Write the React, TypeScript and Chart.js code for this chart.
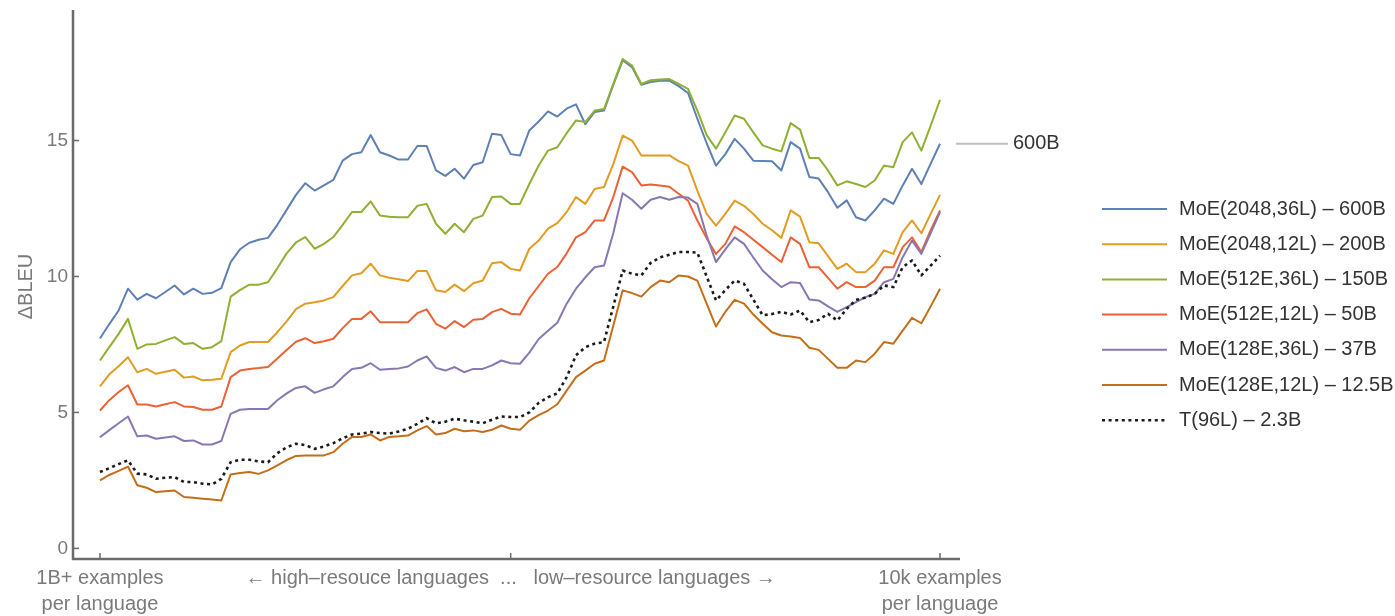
import React, { useEffect, useRef } from "react";
import { Chart, registerables } from "chart.js";

Chart.register(...registerables);

// Languages ordered from most to least training data (rank index along the x axis)
const languageRank = Array.from({ length: 91 }, (_, i) => i);

const xTickPositions = [0, 44, 90];
const xTickLabels = [
  ["1B+ examples", "per language"],
  ["← high–resouce languages  ...   low–resource languages →"],
  ["10k examples", "per language"],
];
const yTickValues = [0, 5, 10, 15];
const yTitle = "ΔBLEU";

const seriesNames = [
  "MoE(2048,36L) – 600B",
  "MoE(2048,12L) – 200B",
  "MoE(512E,36L) – 150B",
  "MoE(512E,12L) – 50B",
  "MoE(128E,36L) – 37B",
  "MoE(128E,12L) – 12.5B",
  "T(96L) – 2.3B",
];

const moe2048x36 = [
  7.72, 8.25, 8.75, 9.55, 9.15, 9.36, 9.2, 9.43, 9.67, 9.34,
  9.55, 9.36, 9.4, 9.57, 10.53, 11.0, 11.24, 11.35, 11.42, 11.9,
  12.45, 13.0, 13.43, 13.16, 13.35, 13.55, 14.26, 14.5, 14.57, 15.2,
  14.57, 14.45, 14.3, 14.3, 14.8, 14.8, 13.9, 13.7, 13.96, 13.6,
  14.1, 14.2, 15.25, 15.2, 14.5, 14.45, 15.37, 15.7, 16.07, 15.88,
  16.17, 16.33, 15.6, 16.05, 16.1, 17.05, 17.95, 17.7, 17.05, 17.15,
  17.2, 17.2, 17.0, 16.75, 15.8, 14.9, 14.08, 14.5, 15.06, 14.7,
  14.26, 14.25, 14.24, 13.9, 14.94, 14.7, 13.66, 13.6, 13.1, 12.53,
  12.8, 12.18, 12.06, 12.43, 12.86, 12.67, 13.35, 13.96, 13.4, 14.15,
  14.88,
];

const moe2048x12 = [
  5.96, 6.4, 6.7, 7.03, 6.48, 6.6, 6.42, 6.5, 6.57, 6.28,
  6.32, 6.18, 6.2, 6.24, 7.22, 7.46, 7.59, 7.59, 7.59, 7.95,
  8.35, 8.8, 9.0, 9.05, 9.12, 9.24, 9.65, 10.04, 10.12, 10.47,
  10.04, 9.95, 9.9, 9.83, 10.2, 10.2, 9.49, 9.43, 9.7, 9.46,
  9.75, 9.85, 10.49, 10.53, 10.28, 10.22, 11.02, 11.32, 11.76, 11.96,
  12.37, 12.92, 12.67, 13.22, 13.29, 14.14, 15.18, 15.0, 14.45, 14.45,
  14.45, 14.45, 14.24, 14.08, 13.16, 12.3, 11.87, 12.3, 12.79, 12.6,
  12.3, 11.94, 11.7, 11.42, 12.43, 12.2, 11.26, 11.22, 10.75, 10.28,
  10.47, 10.16, 10.16, 10.47, 10.96, 10.83, 11.63, 12.06, 11.59, 12.3,
  13.0,
];

const moe512x36 = [
  6.91, 7.4, 7.89, 8.44, 7.34, 7.5, 7.52, 7.65, 7.77, 7.52,
  7.55, 7.34, 7.4, 7.62, 9.26, 9.5, 9.7, 9.7, 9.79, 10.3,
  10.85, 11.25, 11.45, 11.02, 11.2, 11.45, 11.9, 12.37, 12.37, 12.76,
  12.24, 12.2, 12.18, 12.18, 12.6, 12.67, 11.94, 11.57, 11.94, 11.63,
  12.12, 12.24, 12.92, 12.94, 12.67, 12.67, 13.4, 14.08, 14.63, 14.75,
  15.27, 15.74, 15.68, 16.1, 16.16, 17.08, 18.0, 17.76, 17.08, 17.22,
  17.24, 17.26, 17.08, 16.9, 16.1, 15.2, 14.7, 15.3, 15.92, 15.8,
  15.3, 14.82, 14.7, 14.6, 15.64, 15.4, 14.36, 14.36, 13.9, 13.35,
  13.5, 13.4, 13.29, 13.53, 14.08, 14.02, 14.94, 15.3, 14.63, 15.55,
  16.5,
];

const moe512x12 = [
  5.07, 5.45, 5.75, 6.0, 5.29, 5.29, 5.22, 5.3, 5.38, 5.22,
  5.2, 5.1, 5.1, 5.22, 6.3, 6.54, 6.6, 6.63, 6.67, 6.98,
  7.3, 7.6, 7.73, 7.55, 7.62, 7.71, 8.1, 8.44, 8.44, 8.72,
  8.32, 8.32, 8.32, 8.32, 8.65, 8.79, 8.26, 8.08, 8.36, 8.14,
  8.41, 8.44, 8.69, 8.81, 8.63, 8.6, 9.2, 9.65, 10.1, 10.35,
  10.85, 11.44, 11.63, 12.06, 12.06, 12.92, 14.04, 13.84, 13.35, 13.38,
  13.35, 13.3, 13.04, 12.79, 12.06, 11.4, 10.83, 11.2, 11.84, 11.63,
  11.35, 11.08, 10.8, 10.53, 11.44, 11.2, 10.34, 10.34, 9.95, 9.55,
  9.79, 9.61, 9.61, 9.85, 10.34, 10.34, 11.08, 11.44, 10.9, 11.7,
  12.43,
];

const moe128x36 = [
  4.09, 4.35, 4.6, 4.85, 4.12, 4.15, 4.03, 4.08, 4.12, 3.95,
  3.97, 3.82, 3.82, 3.95, 4.95, 5.1, 5.13, 5.13, 5.13, 5.45,
  5.7, 5.9, 5.96, 5.72, 5.85, 5.96, 6.3, 6.6, 6.64, 6.81,
  6.57, 6.6, 6.62, 6.69, 6.91, 7.06, 6.64, 6.54, 6.67, 6.48,
  6.6, 6.6, 6.73, 6.91, 6.81, 6.79, 7.2, 7.7, 8.0, 8.3,
  9.0, 9.55, 9.97, 10.34, 10.4, 11.6, 13.06, 12.82, 12.49, 12.82,
  12.92, 12.82, 12.92, 12.9, 12.67, 11.5, 10.53, 11.0, 11.44, 11.2,
  10.7, 10.22, 9.9, 9.61, 9.79, 9.76, 9.15, 9.12, 8.9, 8.7,
  8.87, 9.06, 9.24, 9.36, 9.79, 9.91, 10.71, 11.32, 10.83, 11.6,
  12.37,
];

const moe128x12 = [
  2.5, 2.7, 2.85, 3.01, 2.32, 2.23, 2.07, 2.1, 2.13, 1.89,
  1.86, 1.83, 1.8, 1.76, 2.72, 2.77, 2.81, 2.74, 2.87, 3.05,
  3.25, 3.4, 3.42, 3.42, 3.42, 3.54, 3.85, 4.1, 4.1, 4.19,
  3.97, 4.1, 4.12, 4.15, 4.34, 4.5, 4.19, 4.24, 4.4, 4.31,
  4.34, 4.28, 4.36, 4.52, 4.4, 4.36, 4.7, 4.9, 5.07, 5.3,
  5.8, 6.3, 6.54, 6.79, 6.91, 8.2, 9.49, 9.39, 9.26, 9.61,
  9.85, 9.79, 10.04, 10.0, 9.85, 9.0, 8.16, 8.7, 9.14, 9.0,
  8.6, 8.26, 7.95, 7.83, 7.79, 7.74, 7.38, 7.3, 6.97, 6.64,
  6.64, 6.91, 6.85, 7.16, 7.59, 7.53, 8.01, 8.48, 8.28, 8.9,
  9.55,
];

const dense96 = [
  2.81, 2.95, 3.1, 3.24, 2.75, 2.72, 2.56, 2.6, 2.62, 2.44,
  2.44, 2.38, 2.35, 2.56, 3.17, 3.26, 3.26, 3.2, 3.17, 3.5,
  3.72, 3.85, 3.8, 3.66, 3.75, 3.87, 4.05, 4.19, 4.22, 4.28,
  4.24, 4.22, 4.3, 4.4, 4.58, 4.79, 4.6, 4.66, 4.77, 4.71,
  4.66, 4.6, 4.73, 4.85, 4.83, 4.83, 5.0, 5.35, 5.56, 5.7,
  6.3, 7.1, 7.4, 7.53, 7.59, 8.9, 10.22, 10.1, 10.04, 10.5,
  10.7, 10.8, 10.9, 10.9, 10.88, 10.0, 9.12, 9.5, 9.85, 9.73,
  9.15, 8.57, 8.62, 8.7, 8.6, 8.75, 8.32, 8.4, 8.63, 8.38,
  8.81, 9.14, 9.22, 9.36, 9.67, 9.61, 10.34, 10.59, 10.04, 10.4,
  10.77,
];

const seriesValues = [moe2048x36, moe2048x12, moe512x36, moe512x12, moe128x36, moe128x12, dense96];
const seriesColors = ["#5E81B5", "#E19C24", "#8FB032", "#EB6235", "#8778B3", "#C56E1A", "#1a1a1a"];
const seriesDashes: number[][] = [[], [], [], [], [], [], [3, 3.6]];
const calloutLabel = "600B";

const FONT = '"Liberation Sans", Arial, Helvetica, sans-serif';
const AXIS_COLOR = "#6b6b6b";
const TICK_TEXT = "#7a7a7a";
const DARK_TEXT = "#333333";

const decorations = {
  id: "decorations",
  beforeDatasetsDraw(chart: any) {
    const { ctx, chartArea: a, scales } = chart;
    const xs = scales.x;
    const ys = scales.y;
    ctx.save();
    // axis frame (left and bottom only)
    ctx.strokeStyle = AXIS_COLOR;
    ctx.lineWidth = 2.5;
    ctx.beginPath();
    ctx.moveTo(a.left, a.top);
    ctx.lineTo(a.left, a.bottom);
    ctx.lineTo(a.right, a.bottom);
    ctx.stroke();
    // inward tick marks
    ctx.lineWidth = 1.5;
    for (const v of yTickValues) {
      const py = ys.getPixelForValue(v);
      ctx.beginPath();
      ctx.moveTo(a.left, py);
      ctx.lineTo(a.left + 6, py);
      ctx.stroke();
    }
    for (const i of xTickPositions) {
      const px = xs.getPixelForValue(i);
      ctx.beginPath();
      ctx.moveTo(px, a.bottom);
      ctx.lineTo(px, a.bottom - 6);
      ctx.stroke();
    }
    // tick labels
    ctx.fillStyle = TICK_TEXT;
    ctx.font = `19px ${FONT}`;
    ctx.textAlign = "right";
    ctx.textBaseline = "middle";
    for (const v of yTickValues) ctx.fillText(String(v), a.left - 5, ys.getPixelForValue(v));
    ctx.font = `20px ${FONT}`;
    ctx.textAlign = "center";
    ctx.textBaseline = "alphabetic";
    xTickPositions.forEach((i, k) => {
      const px = xs.getPixelForValue(i);
      xTickLabels[k].forEach((line, j) => ctx.fillText(line, px, a.bottom + 25 + j * 26));
    });
    // y-axis title
    ctx.save();
    ctx.translate(26, (a.top + a.bottom) / 2 + 2);
    ctx.rotate(-Math.PI / 2);
    ctx.textAlign = "center";
    ctx.textBaseline = "middle";
    ctx.fillText(yTitle, 0, 0);
    ctx.restore();
    ctx.restore();
  },
  afterDraw(chart: any) {
    const { ctx, chartArea: a, scales } = chart;
    ctx.save();
    // callout at the end of the largest model's curve
    const endY = scales.y.getPixelForValue(moe2048x36[moe2048x36.length - 1]);
    ctx.strokeStyle = "#bdbdbd";
    ctx.lineWidth = 2;
    ctx.beginPath();
    ctx.moveTo(a.right - 4, endY);
    ctx.lineTo(a.right + 48, endY);
    ctx.stroke();
    ctx.font = `20px ${FONT}`;
    ctx.fillStyle = DARK_TEXT;
    ctx.textAlign = "left";
    ctx.textBaseline = "middle";
    ctx.fillText(calloutLabel, a.right + 53, endY);

    // legend
    const lx0 = 1102;
    const lx1 = 1167;
    const tx = 1179;
    const top = 209;
    const step = 35.2;
    seriesNames.forEach((name, k) => {
      const yy = top + k * step;
      ctx.strokeStyle = seriesColors[k];
      ctx.lineWidth = k === 6 ? 2.5 : 2;
      ctx.setLineDash(seriesDashes[k]);
      ctx.beginPath();
      ctx.moveTo(lx0, yy);
      ctx.lineTo(lx1, yy);
      ctx.stroke();
      ctx.setLineDash([]);
      ctx.fillStyle = DARK_TEXT;
      ctx.fillText(name, tx, yy);
    });
    ctx.restore();
  },
};

export default function App() {
  const canvasRef = useRef<HTMLCanvasElement | null>(null);

  useEffect(() => {
    const canvas = canvasRef.current;
    if (!canvas) return;
    const chart = new Chart(canvas, {
      type: "line",
      data: {
        labels: languageRank,
        datasets: seriesNames.map((name, k) => ({
          label: name,
          data: seriesValues[k],
          borderColor: seriesColors[k],
          backgroundColor: seriesColors[k],
          borderWidth: k === 6 ? 2.6 : 2,
          borderDash: seriesDashes[k],
          pointRadius: 0,
          tension: 0,
          fill: false,
          borderJoinStyle: "round" as const,
          order: 6 - k,
        })),
      },
      options: {
        responsive: false,
        animation: false,
        events: [],
        layout: { padding: { left: 73, top: 10, right: 1395 - 960, bottom: 616 - 559 } },
        plugins: { legend: { display: false }, tooltip: { enabled: false } },
        scales: {
          x: { type: "linear", display: false, min: -2.89, max: 92.14 },
          y: { type: "linear", display: false, min: -0.39, max: 19.8 },
        },
      },
      plugins: [decorations],
    });
    return () => chart.destroy();
  }, []);

  return (
    <div style={{ position: "fixed", left: 0, top: 0, width: 1395, height: 616, background: "#fff" }}>
      <canvas ref={canvasRef} width={1395} height={616} style={{ display: "block" }} />
    </div>
  );
}
